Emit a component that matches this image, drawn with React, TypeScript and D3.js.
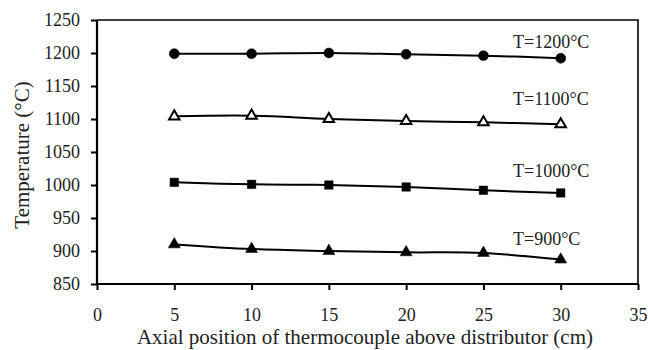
import * as d3 from "d3";
import {useEffect, useRef} from "react";

const positions = [5, 10, 15, 20, 25, 30];
const t1200 = [1199, 1199, 1200, 1198, 1196, 1192];
const t1100 = [1104, 1105, 1100, 1097, 1095, 1092];
const t1000 = [1004, 1001, 1000, 997, 992, 988];
const t900 = [910, 903, 900, 898, 897, 887];
const seriesLabels = ["T=1200°C", "T=1100°C", "T=1000°C", "T=900°C"];
const labelTemps = [1208, 1121, 1012, 909]; // where each label sits, in °C
const xTicks = [0, 5, 10, 15, 20, 25, 30, 35];
const yTicks = [850, 900, 950, 1000, 1050, 1100, 1150, 1200, 1250];

const App = () => {
	const svgRef = useRef(null);

	useEffect(() => {
		const width = 648;
		const height = 350;
		const m = {left: 97, right: 10, top: 20, bottom: 66};
		const font = "'Liberation Serif', 'Times New Roman', serif";

		const svg = d3.select(svgRef.current);
		svg.selectAll("*").remove();

		const x = d3.scaleLinear().domain([0, 35]).range([m.left, width - m.right]);
		const y = d3.scaleLinear().domain([850, 1250]).range([height - m.bottom, m.top]);

		// frame (top and right)
		svg.append("path")
			.attr("d", `M${x(0)},${y(1250)}H${x(35)}V${y(850)}`)
			.attr("fill", "none")
			.attr("stroke", "#000")
			.attr("stroke-width", 1.6);

		const xAxis = svg.append("g")
			.attr("transform", `translate(0,${y(850)})`)
			.call(d3.axisBottom(x).tickValues(xTicks).tickSize(6).tickPadding(18).tickFormat(d3.format("d")));
		const yAxis = svg.append("g")
			.attr("transform", `translate(${x(0)},0)`)
			.call(d3.axisLeft(y).tickValues(yTicks).tickSize(6).tickPadding(11).tickFormat(d3.format("d")));

		[xAxis, yAxis].forEach((g) => {
			g.select(".domain").attr("stroke-width", 2.2);
			g.selectAll(".tick line").attr("stroke-width", 2);
			g.selectAll("text")
				.attr("font-family", font)
				.attr("font-size", 18)
				.attr("fill", "#222");
		});
		xAxis.select(".domain").attr("d", `M${x(0)},0H${x(35)}`);
		yAxis.select(".domain").attr("d", `M0,${y(850)}V${y(1250)}`);

		svg.append("text")
			.attr("x", 365)
			.attr("y", 344)
			.attr("text-anchor", "middle")
			.attr("font-family", font)
			.attr("font-size", 21)
			.attr("fill", "#222")
			.text("Axial position of thermocouple above distributor (cm)");

		svg.append("text")
			.attr("transform", `translate(29,${(y(850) + y(1250)) / 2 + 3}) rotate(-90)`)
			.attr("text-anchor", "middle")
			.attr("font-family", font)
			.attr("font-size", 21)
			.attr("fill", "#222")
			.text("Temperature (°C)");

		const allSeries = [t1200, t1100, t1000, t900];
		const markers = ["circle", "openTri", "square", "tri"];

		const line = d3.line()
			.x((d) => x(d[0]))
			.y((d) => y(d[1]))
			.curve(d3.curveCatmullRom);

		allSeries.forEach((vals, i) => {
			const pts = positions.map((p, j) => [p, vals[j]]);
			svg.append("path")
				.datum(pts)
				.attr("d", line)
				.attr("fill", "none")
				.attr("stroke", "#000")
				.attr("stroke-width", 2);

			const kind = markers[i];
			const sym =
				kind === "circle" ? d3.symbolCircle :
				kind === "square" ? d3.symbolSquare : d3.symbolTriangle;
			const size = kind === "circle" ? 78 : kind === "square" ? 72 : kind === "openTri" ? 48 : 62;
			svg.append("g")
				.selectAll("path")
				.data(pts)
				.join("path")
				.attr("transform", (d) => `translate(${x(d[0])},${y(d[1])})`)
				.attr("d", d3.symbol().type(sym).size(size))
				.attr("fill", kind === "openTri" ? "#fff" : "#000")
				.attr("stroke", "#000")
				.attr("stroke-width", kind === "openTri" ? 2 : 0.5);

			svg.append("text")
				.attr("x", 513)
				.attr("y", y(labelTemps[i]))
				.attr("font-family", font)
				.attr("font-size", 18)
				.attr("fill", "#222")
				.text(seriesLabels[i]);
		});
	}, []);

	return (
		<svg
			ref={svgRef}
			width={648}
			height={350}
			style={{position: "absolute", left: 0, top: 0, background: "#fff"}}
		></svg>
	);
};

export default App;
